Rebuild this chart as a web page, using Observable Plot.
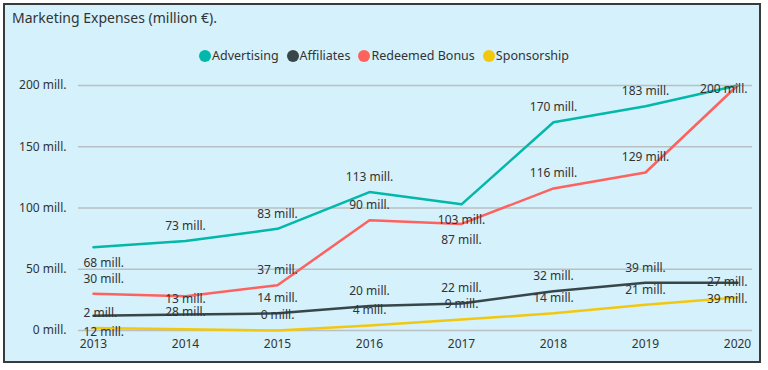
<!DOCTYPE html>
<html>
<head>
<meta charset="utf-8">
<script src="https://cdn.jsdelivr.net/npm/d3@7"></script>
<script src="https://cdn.jsdelivr.net/npm/@observablehq/plot@0.6"></script>
<style>
  html, body { margin: 0; padding: 0; background: #ffffff; width: 768px; height: 370px; overflow: hidden; font-family: "Noto Sans", "Open Sans", sans-serif; }
  #frame { position: absolute; left: 3px; top: 3px; width: 758px; height: 360px; box-sizing: border-box; border: 2px solid #3a3a3a; background: #d5f1fb; }
  #title { position: absolute; left: 12px; top: 8px; font-size: 14px; color: #333; }
  #legend { position: absolute; left: 0; top: 47px; width: 768px; display: flex; justify-content: center; font-size: 12.5px; color: #333; }
  .item { display: flex; align-items: center; margin: 0 4px; }
  .dot { width: 12px; height: 12px; border-radius: 50%; margin-right: 1px; }
  #chart { position: absolute; left: 0; top: 70px; }
</style>
</head>
<body>
<div id="frame"></div>
<div id="title">Marketing Expenses (million €).</div>
<div id="legend"></div>
<div id="chart"></div>
<script>
const years = [2013, 2014, 2015, 2016, 2017, 2018, 2019, 2020];
const seriesNames = ["Advertising", "Affiliates", "Redeemed Bonus", "Sponsorship"];
const seriesColors = ["#01B8AA", "#374649", "#FD625E", "#F2C80F"];
const advertising = [68, 73, 83, 113, 103, 170, 183, 200];
const affiliates = [12, 13, 14, 20, 22, 32, 39, 39];
const redeemedBonus = [30, 28, 37, 90, 87, 116, 129, 200];
const sponsorship = [2, 1, 0, 4, 9, 14, 21, 27];
const yTicks = [0, 50, 100, 150, 200];
// data labels drawn below / on their point instead of above, and labels hidden by the original
const labelsBelow = [["Advertising", 2013], ["Advertising", 2017], ["Redeemed Bonus", 2014], ["Redeemed Bonus", 2017], ["Affiliates", 2013], ["Affiliates", 2020]];
const labelsOnPoint = [["Advertising", 2020]];
const labelsHidden = [["Redeemed Bonus", 2020], ["Sponsorship", 2014]];

const valuesBySeries = [advertising, affiliates, redeemedBonus, sponsorship];
const data = [];
seriesNames.forEach((s, i) => years.forEach((y, j) => data.push({series: s, year: y, value: valuesBySeries[i][j]})));
const isIn = (list, d) => list.some(([s, y]) => s === d.series && y === d.year);
const labelData = data.filter(d => !isIn(labelsHidden, d))
  .map(d => ({...d, pos: isIn(labelsBelow, d) ? "below" : isIn(labelsOnPoint, d) ? "on" : "above"}));

// legend
const legend = document.getElementById("legend");
seriesNames.forEach((s, i) => {
  const it = document.createElement("div");
  it.className = "item";
  it.innerHTML = `<span class="dot" style="background:${seriesColors[i]}"></span><span>${s}</span>`;
  legend.appendChild(it);
});

const fmt = d => d + " mill.";
const offsets = {above: -15, below: 16, on: 4};
const labelMark = (filter, anchor, dx) => Object.entries(offsets).map(([pos, dy]) =>
  Plot.text(labelData.filter(d => filter(d) && d.pos === pos), {x: "year", y: "value", text: d => fmt(d.value), dy, dx, textAnchor: anchor, fill: "#333"})
);

const chart = Plot.plot({
  width: 768,
  height: 290,
  marginLeft: 78,
  marginRight: 16,
  marginTop: 15,
  marginBottom: 30,
  style: {background: "transparent", fontSize: "12px", fontFamily: "'Noto Sans', sans-serif", color: "#333"},
  x: {type: "point", domain: years, padding: 0.15, label: null, tickSize: 0, tickPadding: 9, tickFormat: d => String(d)},
  y: {domain: [0, 200], ticks: yTicks, tickFormat: fmt, label: null, tickSize: 0, tickPadding: 12},
  color: {domain: seriesNames, range: seriesColors},
  marks: [
    Plot.ruleY(yTicks, {stroke: "#b9bfc2", strokeWidth: 1.5}),
    Plot.line(data, {x: "year", y: "value", stroke: "series", strokeWidth: 2.5, z: "series"}),
    ...labelMark(d => d.year === years[0], "start", -10),
    ...labelMark(d => d.year !== years[0] && d.year !== years[years.length - 1], "middle", 0),
    ...labelMark(d => d.year === years[years.length - 1], "end", 10)
  ]
});
document.getElementById("chart").appendChild(chart);
</script>
</body>
</html>
